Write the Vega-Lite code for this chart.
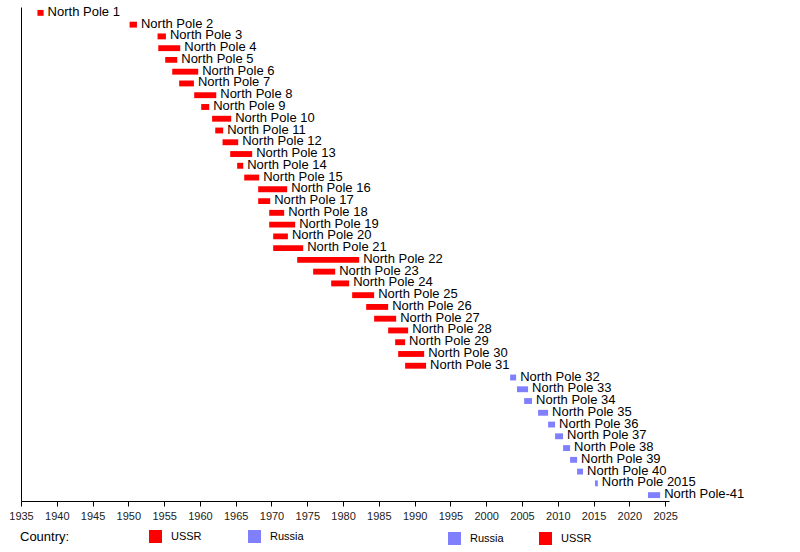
{
  "$schema": "https://vega.github.io/schema/vega-lite/v6.json",
  "width": 648,
  "height": 494,
  "autosize": {"type": "none"},
  "padding": {"left": 21, "top": 7, "right": 131, "bottom": 51},
  "background": "white",
  "config": {
    "view": {"stroke": null},
    "font": "Liberation Sans",
    "axisX": {
      "title": null,
      "format": "d",
      "grid": false,
      "domainColor": "black",
      "tickColor": "black",
      "tickSize": 5,
      "labelPadding": 4,
      "labelFontSize": 11,
      "labelColor": "#222",
      "labelFlush": false,
      "labelOverlap": false
    }
  },
  "data": {
    "values": [
      {"name": "North Pole 1", "start": 1937.3, "end": 1938.16, "country": "USSR"},
      {"name": "North Pole 2", "start": 1950.17, "end": 1951.2, "country": "USSR"},
      {"name": "North Pole 3", "start": 1954.08, "end": 1955.25, "country": "USSR"},
      {"name": "North Pole 4", "start": 1954.18, "end": 1957.25, "country": "USSR"},
      {"name": "North Pole 5", "start": 1955.15, "end": 1956.83, "country": "USSR"},
      {"name": "North Pole 6", "start": 1956.13, "end": 1959.76, "country": "USSR"},
      {"name": "North Pole 7", "start": 1957.1, "end": 1959.16, "country": "USSR"},
      {"name": "North Pole 8", "start": 1959.2, "end": 1962.28, "country": "USSR"},
      {"name": "North Pole 9", "start": 1960.18, "end": 1961.3, "country": "USSR"},
      {"name": "North Pole 10", "start": 1961.7, "end": 1964.37, "country": "USSR"},
      {"name": "North Pole 11", "start": 1962.14, "end": 1963.25, "country": "USSR"},
      {"name": "North Pole 12", "start": 1963.16, "end": 1965.35, "country": "USSR"},
      {"name": "North Pole 13", "start": 1964.23, "end": 1967.3, "country": "USSR"},
      {"name": "North Pole 14", "start": 1965.2, "end": 1966.05, "country": "USSR"},
      {"name": "North Pole 15", "start": 1966.19, "end": 1968.28, "country": "USSR"},
      {"name": "North Pole 16", "start": 1968.14, "end": 1972.19, "country": "USSR"},
      {"name": "North Pole 17", "start": 1968.14, "end": 1969.82, "country": "USSR"},
      {"name": "North Pole 18", "start": 1969.68, "end": 1971.77, "country": "USSR"},
      {"name": "North Pole 19", "start": 1969.68, "end": 1973.31, "country": "USSR"},
      {"name": "North Pole 20", "start": 1970.24, "end": 1972.29, "country": "USSR"},
      {"name": "North Pole 21", "start": 1970.24, "end": 1974.43, "country": "USSR"},
      {"name": "North Pole 22", "start": 1973.59, "end": 1982.25, "country": "USSR"},
      {"name": "North Pole 23", "start": 1975.82, "end": 1978.9, "country": "USSR"},
      {"name": "North Pole 24", "start": 1978.34, "end": 1980.85, "country": "USSR"},
      {"name": "North Pole 25", "start": 1981.27, "end": 1984.34, "country": "USSR"},
      {"name": "North Pole 26", "start": 1983.23, "end": 1986.3, "country": "USSR"},
      {"name": "North Pole 27", "start": 1984.34, "end": 1987.42, "country": "USSR"},
      {"name": "North Pole 28", "start": 1986.3, "end": 1989.09, "country": "USSR"},
      {"name": "North Pole 29", "start": 1987.28, "end": 1988.67, "country": "USSR"},
      {"name": "North Pole 30", "start": 1987.7, "end": 1991.33, "country": "USSR"},
      {"name": "North Pole 31", "start": 1988.67, "end": 1991.6, "country": "USSR"},
      {"name": "North Pole 32", "start": 2003.34, "end": 2004.18, "country": "Russia"},
      {"name": "North Pole 33", "start": 2004.3, "end": 2005.85, "country": "Russia"},
      {"name": "North Pole 34", "start": 2005.3, "end": 2006.4, "country": "Russia"},
      {"name": "North Pole 35", "start": 2007.25, "end": 2008.65, "country": "Russia"},
      {"name": "North Pole 36", "start": 2008.65, "end": 2009.62, "country": "Russia"},
      {"name": "North Pole 37", "start": 2009.62, "end": 2010.74, "country": "Russia"},
      {"name": "North Pole 38", "start": 2010.74, "end": 2011.72, "country": "Russia"},
      {"name": "North Pole 39", "start": 2011.72, "end": 2012.7, "country": "Russia"},
      {"name": "North Pole 40", "start": 2012.7, "end": 2013.53, "country": "Russia"},
      {"name": "North Pole 2015", "start": 2015.2, "end": 2015.6, "country": "Russia"},
      {"name": "North Pole-41", "start": 2022.6, "end": 2024.3, "country": "Russia"}
    ]
  },
  "encoding": {
    "y": {
      "field": "name",
      "type": "nominal",
      "sort": null,
      "scale": {"paddingInner": 0, "paddingOuter": 0},
      "axis": {"labels": false, "ticks": false, "title": null, "domainColor": "black", "grid": false}
    }
  },
  "layer": [
    {
      "mark": {"type": "bar", "height": {"band": 0.5}},
      "encoding": {
        "x": {
          "field": "start",
          "type": "quantitative",
          "scale": {"domain": [1935, 2025.54], "nice": false, "zero": false},
          "axis": {"values": [1935, 1940, 1945, 1950, 1955, 1960, 1965, 1970, 1975, 1980, 1985, 1990, 1995, 2000, 2005, 2010, 2015, 2020, 2025]}
        },
        "x2": {"field": "end"},
        "color": {
          "field": "country",
          "type": "nominal",
          "scale": {"domain": ["USSR", "Russia"], "range": ["#ff0000", "#8080ff"]},
          "legend": {
            "orient": "none",
            "legendX": -1,
            "legendY": 523,
            "direction": "horizontal",
            "title": "Country:",
            "titleOrient": "left",
            "titleFontSize": 13,
            "titleFontWeight": "normal",
            "titleColor": "black",
            "titlePadding": 79,
            "symbolType": "square",
            "symbolSize": 169,
            "symbolStrokeWidth": 0,
            "symbolOpacity": 1,
            "labelFontSize": 11,
            "labelColor": "black",
            "labelOffset": 9,
            "columnPadding": 46
          }
        }
      }
    },
    {
      "mark": {"type": "bar", "height": {"band": 0.5}, "opacity": 0},
      "encoding": {
        "x": {
          "field": "start",
          "type": "quantitative",
          "axis": {"values": [1935, 1940, 1945, 1950, 1955, 1960, 1965, 1970, 1975, 1980, 1985, 1990, 1995, 2000, 2005, 2010, 2015, 2020, 2025]}
        },
        "x2": {"field": "end"},
        "color": {
          "field": "country",
          "type": "nominal",
          "scale": {"domain": ["Russia", "USSR"], "range": ["#8080ff", "#ff0000"]},
          "legend": {
            "orient": "none",
            "legendX": 427,
            "legendY": 525,
            "direction": "horizontal",
            "title": null,
            "symbolType": "square",
            "symbolSize": 169,
            "symbolStrokeWidth": 0,
            "symbolOpacity": 1,
            "labelFontSize": 11,
            "labelColor": "black",
            "labelOffset": 9,
            "columnPadding": 35
          }
        }
      }
    },
    {
      "mark": {"type": "text", "align": "left", "baseline": "middle", "dx": 4, "dy": -1, "fontSize": 13, "color": "black"},
      "encoding": {
        "x": {
          "field": "end",
          "type": "quantitative",
          "axis": {"values": [1935, 1940, 1945, 1950, 1955, 1960, 1965, 1970, 1975, 1980, 1985, 1990, 1995, 2000, 2005, 2010, 2015, 2020, 2025]}
        },
        "text": {"field": "name"}
      }
    }
  ],
  "resolve": {"scale": {"color": "independent"}, "legend": {"color": "independent"}}
}
